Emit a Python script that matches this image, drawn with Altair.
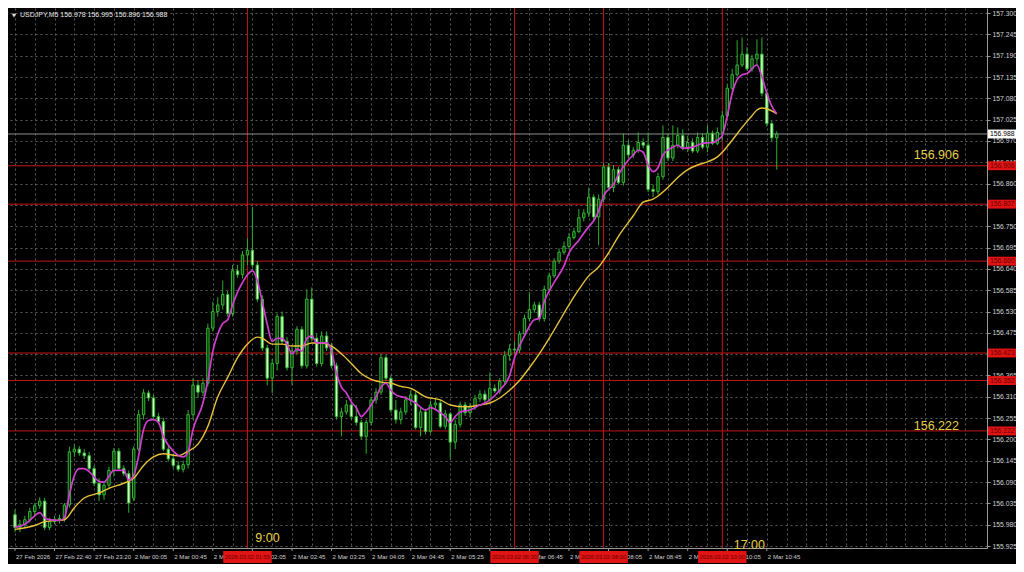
import altair as alt
import pandas as pd

# ---------------- data ----------------
open_ = [156.006,155.973,155.981,155.993,156.014,156.029,156.041,155.973,155.988,155.993,
         155.996,156.031,156.168,156.175,156.165,156.158,156.125,156.087,156.057,156.082,
         156.120,156.170,156.125,156.112,156.049,156.175,156.264,156.320,156.307,156.259,
         156.246,156.175,156.150,156.133,156.123,156.135,156.264,156.340,156.322,156.345,
         156.487,156.530,156.547,156.574,156.525,156.635,156.625,156.676,156.688,156.650,
         156.562,156.436,156.358,156.396,156.517,156.453,156.385,156.428,156.484,156.390,
         156.562,156.461,156.396,156.467,156.436,156.390,156.259,156.271,156.289,156.259,
         156.244,156.208,156.244,156.302,156.322,156.411,156.358,156.276,156.251,156.271,
         156.302,156.315,156.231,156.271,156.221,156.289,156.294,156.234,156.266,156.193,
         156.239,156.289,156.269,156.284,156.305,156.317,156.302,156.332,156.325,156.350,
         156.416,156.433,156.431,156.472,156.512,156.535,156.547,156.512,156.587,156.622,
         156.660,156.683,156.698,156.721,156.736,156.772,156.784,156.825,156.774,156.820,
         156.903,156.850,156.896,156.863,156.959,156.934,156.946,156.966,156.959,156.845,
         156.840,156.878,156.979,156.926,156.959,156.984,156.954,156.966,156.944,156.979,
         156.954,156.990,156.964,156.992,157.035,157.106,157.141,157.166,157.194,157.156,
         157.182,157.194,157.093,157.015,156.978]
high_ = [156.019,155.993,156.003,156.024,156.036,156.051,156.049,155.998,156.003,156.006,
         156.036,156.181,156.188,156.183,156.175,156.168,156.133,156.100,156.090,156.130,
         156.178,156.178,156.133,156.120,156.183,156.276,156.330,156.327,156.315,156.269,
         156.256,156.183,156.163,156.145,156.145,156.276,156.358,156.353,156.358,156.499,
         156.555,156.567,156.610,156.584,156.650,156.650,156.686,156.719,156.800,156.660,
         156.572,156.444,156.408,156.525,156.530,156.464,156.438,156.492,156.492,156.587,
         156.592,156.472,156.479,156.479,156.449,156.398,156.282,156.302,156.297,156.289,
         156.251,156.251,156.310,156.332,156.421,156.418,156.365,156.302,156.282,156.312,
         156.327,156.322,156.282,156.279,156.299,156.307,156.302,156.276,156.271,156.251,
         156.297,156.297,156.294,156.315,156.327,156.327,156.373,156.342,156.358,156.428,
         156.446,156.453,156.479,156.522,156.580,156.555,156.555,156.597,156.630,156.668,
         156.693,156.711,156.732,156.746,156.794,156.794,156.850,156.832,156.832,156.913,
         156.913,156.908,156.903,156.990,156.972,156.954,156.992,156.977,156.992,156.858,
         156.888,157.010,156.990,157.010,157.005,157.000,156.984,156.977,156.992,156.990,
         157.010,156.997,157.005,157.047,157.116,157.156,157.230,157.237,157.212,157.192,
         157.232,157.237,157.101,157.022,156.995]
low_ = [155.961,155.961,155.971,155.986,156.003,156.021,155.966,155.966,155.981,155.983,
        155.988,156.024,156.155,156.158,156.150,156.120,156.080,156.041,156.044,156.074,
        156.105,156.120,156.105,156.011,156.041,156.170,156.251,156.299,156.254,156.239,
        156.170,156.143,156.125,156.117,156.115,156.125,156.251,156.307,156.312,156.337,
        156.479,156.517,156.535,156.517,156.517,156.617,156.615,156.650,156.643,156.555,
        156.428,156.340,156.320,156.378,156.444,156.378,156.340,156.421,156.383,156.383,
        156.453,156.388,156.388,156.428,156.383,156.251,156.208,156.264,156.251,156.236,
        156.201,156.163,156.236,156.292,156.315,156.350,156.269,156.241,156.239,156.264,
        156.289,156.226,156.208,156.213,156.216,156.276,156.229,156.226,156.150,156.175,
        156.231,156.261,156.256,156.276,156.297,156.294,156.297,156.320,156.317,156.342,
        156.403,156.421,156.423,156.464,156.504,156.527,156.504,156.504,156.580,156.617,
        156.653,156.676,156.691,156.716,156.732,156.762,156.774,156.767,156.701,156.812,
        156.843,156.838,156.858,156.855,156.926,156.926,156.939,156.951,156.838,156.825,
        156.832,156.870,156.918,156.918,156.951,156.946,156.941,156.939,156.939,156.949,
        156.941,156.959,156.959,156.972,157.030,157.098,157.136,157.161,157.151,157.149,
        157.166,157.085,157.007,156.969,156.896]
close_ = [155.973,155.981,155.993,156.014,156.029,156.041,155.973,155.988,155.993,155.996,
          156.031,156.168,156.175,156.165,156.158,156.125,156.087,156.057,156.082,156.120,
          156.170,156.125,156.112,156.036,156.175,156.264,156.320,156.307,156.259,156.246,
          156.175,156.150,156.133,156.123,156.135,156.264,156.340,156.322,156.345,156.487,
          156.530,156.547,156.574,156.525,156.635,156.625,156.676,156.688,156.650,156.562,
          156.436,156.358,156.396,156.517,156.453,156.385,156.428,156.484,156.390,156.562,
          156.461,156.396,156.467,156.436,156.390,156.259,156.271,156.289,156.259,156.244,
          156.208,156.244,156.302,156.322,156.411,156.358,156.276,156.251,156.271,156.302,
          156.315,156.231,156.271,156.221,156.289,156.294,156.234,156.266,156.193,156.239,
          156.289,156.269,156.284,156.305,156.317,156.302,156.332,156.325,156.350,156.416,
          156.433,156.431,156.472,156.512,156.535,156.547,156.512,156.587,156.622,156.660,
          156.683,156.698,156.721,156.736,156.772,156.784,156.825,156.774,156.820,156.903,
          156.850,156.896,156.863,156.959,156.934,156.946,156.966,156.959,156.845,156.840,
          156.878,156.979,156.926,156.959,156.984,156.954,156.966,156.944,156.979,156.954,
          156.990,156.964,156.992,157.035,157.106,157.141,157.166,157.194,157.156,157.182,
          157.194,157.093,157.015,156.978,156.988]

fast_idx = [0,2,4,5,6,7,9,10,11,12,13,14,15,17,18,19,20,22,23,24,25,26,27,28,29,30,32,34,35,36,
            38,39,40,41,42,43,44,45,46,47,48,49,50,51,52,53,54,55,56,57,58,59,60,61,63,64,65,66,67,68,
            69,70,71,72,73,74,75,76,77,79,81,83,84,86,87,88,89,90,92,94,95,96,98,100,101,103,105,106,107,109,
            111,112,114,116,117,118,119,121,122,124,125,126,127,128,129,130,131,133,134,135,
            137,138,139,141,142,143,144,145,146,147,148,150,151,152,153,154]
fast_val = [155.973,155.981,156.003,156.011,155.998,155.993,155.991,155.998,156.057,156.107,
            156.125,156.125,156.117,156.092,156.090,156.105,156.120,156.120,156.095,156.107,
            156.158,156.226,156.249,156.251,156.244,156.208,156.170,156.155,156.168,156.226,
            156.294,156.352,156.428,156.472,156.499,156.509,156.547,156.580,156.605,156.625,
            156.635,156.610,156.555,156.497,156.453,156.461,156.461,156.446,156.421,156.433,
            156.428,156.461,156.467,156.449,156.449,156.428,156.370,156.335,156.320,156.297,
            156.282,156.259,156.271,156.289,156.310,156.335,156.345,156.327,156.315,156.307,
            156.294,156.276,156.282,156.269,156.259,156.244,156.259,156.271,156.276,156.289,
            156.294,156.302,156.327,156.365,156.411,156.467,156.509,156.512,156.555,156.605,
            156.648,156.681,156.714,156.749,156.764,156.790,156.828,156.858,156.883,156.921,
            156.934,156.946,156.941,156.908,156.891,156.901,156.934,156.954,156.959,156.951,
            156.954,156.959,156.964,156.966,156.972,156.984,157.035,157.093,157.128,157.141,
            157.144,157.166,157.136,157.093,157.060,157.040]

slow_idx = [0,4,6,10,12,14,17,19,22,24,26,28,30,33,35,37,39,41,43,45,47,49,50,52,54,56,58,60,62,64,
            66,68,70,72,74,76,78,80,83,86,88,91,94,96,98,100,102,104,106,108,110,112,114,116,118,120,
            122,125,127,129,130,132,134,136,138,140,142,143,145,147,149,150,151,152,154]
slow_val = [155.968,155.978,155.988,155.993,156.024,156.049,156.062,156.074,156.087,156.100,
            156.133,156.155,156.163,156.158,156.170,156.188,156.234,156.310,156.360,156.411,
            156.446,156.464,156.461,156.446,156.446,156.441,156.441,156.449,156.449,156.441,
            156.421,156.396,156.370,156.355,156.348,156.345,156.337,156.332,156.310,156.302,
            156.289,156.284,156.289,156.294,156.307,156.327,156.352,156.385,156.421,156.461,
            156.504,156.547,156.587,156.622,156.645,156.681,156.724,156.777,156.812,156.820,
            156.828,156.850,156.876,156.896,156.908,156.916,156.929,156.941,156.972,157.005,
            157.035,157.050,157.055,157.053,157.040]

hline_prices = [156.906, 156.807, 156.660, 156.423, 156.352, 156.222]
vline_idx = [47, 101, 119, 143]
vline_labels = ["2026.03.02 01:55", "2026.03.02 06:30", "2026.03.02 08:00", "2026.03.02 10:00"]

time_idx = [0, 8, 16, 24, 32, 40, 48, 56, 64, 72, 80, 88, 96, 104, 112, 120, 128, 136, 144, 152]
time_labels = ["27 Feb 2026", "27 Feb 22:40", "27 Feb 23:20", "2 Mar 00:05", "2 Mar 00:45",
               "2 Mar 01:25", "2 Mar 02:05", "2 Mar 02:45", "2 Mar 03:25", "2 Mar 04:05",
               "2 Mar 04:45", "2 Mar 05:25", "2 Mar 06:05", "2 Mar 06:45", "2 Mar 07:25",
               "2 Mar 08:05", "2 Mar 08:45", "2 Mar 09:25", "2 Mar 10:05", "2 Mar 10:45"]
price_ticks = [155.925, 155.980, 156.035, 156.090, 156.145, 156.200, 156.255, 156.310, 156.365,
               156.420, 156.475, 156.530, 156.585, 156.640, 156.695, 156.750, 156.805, 156.860,
               156.915, 156.970, 157.025, 157.080, 157.135, 157.190, 157.245, 157.300]
bid_price = 156.988

ann_text = ["9:00", "17:00", "156.906", "156.222"]
ann_x = [48.6, 145.3, 181.7, 181.7]
ann_y = [155.945, 155.928, 156.934, 156.236]

symbol = "USDJPY,M5"

# ---------------- tables ----------------
bars = pd.DataFrame({"i": list(range(len(close_))), "o": open_, "h": high_, "l": low_, "c": close_})
fast = pd.DataFrame({"i": fast_idx, "v": fast_val})
slow = pd.DataFrame({"i": slow_idx, "v": slow_val})
hl = pd.DataFrame({"p": hline_prices})
vl = pd.DataFrame({"i": vline_idx, "t": vline_labels})
tl = pd.DataFrame({"i": time_idx, "t": time_labels})
bid = pd.DataFrame({"p": [bid_price]})
ann = pd.DataFrame({"x": ann_x, "y": ann_y, "t": ann_text})
ttl = pd.DataFrame({"t": [f"{symbol}  {open_[-1]:.3f} {high_[-1]:.3f} {low_[-1]:.3f} {close_[-1]:.3f}"]})

W, H = 979, 540
FONT = "Liberation Sans"
GRID = "#8a8a8a"
AX = "#9a9a9a"
RED_LINE = "#c41414"
RED_BOX = "#e01414"

xs = alt.Scale(domain=[-0.4, 195.5], nice=False, zero=False)
ys = alt.Scale(domain=[155.920, 157.313], nice=False, zero=False)
xaxis = alt.Axis(values=list(range(0, 196, 4)), grid=True, gridColor=GRID, gridDash=[2, 3],
                 gridOpacity=0.65, labels=False, ticks=False, domain=True, domainColor=AX, title=None)
yaxis = alt.Axis(orient="right", values=price_ticks, format=".3f", grid=True, gridColor=GRID,
                 gridDash=[2, 3], gridOpacity=0.65, labelColor="#d2d2d2", labelFont=FONT,
                 labelFontSize=6.8, labelAlign="left", labelPadding=2, tickColor=AX, tickSize=3,
                 domainColor=AX, title=None)


def X(f):
    return alt.X(f, type="quantitative", scale=xs, axis=xaxis)


def Y(f):
    return alt.Y(f, type="quantitative", scale=ys, axis=yaxis)


hlines = alt.Chart(hl).mark_rule(color=RED_LINE, strokeWidth=1).encode(y=Y("p"))
vlines = alt.Chart(vl).mark_rule(color=RED_LINE, strokeWidth=1).encode(x=X("i"))
bidline = alt.Chart(bid).mark_rule(color="#8f8f8f", strokeWidth=1).encode(y=Y("p"))

wicks = alt.Chart(bars).mark_rule(color="#2fae2f", strokeWidth=1).encode(x=X("i"), y=Y("l"), y2="h")
bodies = alt.Chart(bars).mark_bar(size=2.4, stroke="#33b833", strokeWidth=1).encode(
    x=X("i"), y=Y("o"), y2="c",
    fill=alt.condition("datum.c >= datum.o", alt.value("#0c300c"), alt.value("#d6ffc8")),
)

fast_line = alt.Chart(fast).mark_line(color="#cf3fcf", strokeWidth=1.7, interpolate="monotone").encode(
    x=X("i"), y=Y("v"))
slow_line = alt.Chart(slow).mark_line(color="#e8c23a", strokeWidth=1.4, interpolate="monotone").encode(
    x=X("i"), y=Y("v"))

ann_txt = alt.Chart(ann).mark_text(align="left", baseline="middle", fontSize=12.5, font=FONT,
                                   color="#e6cf4a").encode(x=X("x"), y=Y("y"), text="t:N")

# bottom time labels
tticks = alt.Chart(tl).mark_rule(color=AX).encode(x=X("i"), y=alt.value(H), y2=alt.value(H + 3))
tlabels = alt.Chart(tl).mark_text(align="left", baseline="middle", dx=1, fontSize=6.1, font=FONT,
                                  color="#cfcfcf").encode(x=X("i"), y=alt.value(H + 9), text="t:N")
tboxes = alt.Chart(vl).transform_calculate(x0="datum.i - 4.9", x1="datum.i + 4.9").mark_rect(
    color=RED_BOX).encode(x=X("x0:Q"), x2="x1:Q", y=alt.value(H + 3), y2=alt.value(H + 15))
tboxtxt = alt.Chart(vl).mark_text(baseline="middle", fontSize=5.8, font=FONT, color="#6a0000").encode(
    x=X("i"), y=alt.value(H + 9), text="t:N")

# right axis price boxes
pboxes = alt.Chart(hl).transform_calculate(top="datum.p + 0.0115", bot="datum.p - 0.0115").mark_rect(
    color=RED_BOX).encode(x=alt.value(W + 1), x2=alt.value(W + 29), y=Y("top:Q"), y2="bot:Q")
pboxtxt = alt.Chart(hl).mark_text(align="left", baseline="middle", fontSize=6.8, font=FONT,
                                  color="#6a0000").encode(x=alt.value(W + 3), y=Y("p"),
                                                          text=alt.Text("p:Q", format=".3f"))
bidbox = alt.Chart(bid).transform_calculate(top="datum.p + 0.0115", bot="datum.p - 0.0115").mark_rect(
    color="#ffffff").encode(x=alt.value(W + 1), x2=alt.value(W + 29), y=Y("top:Q"), y2="bot:Q")
bidtxt = alt.Chart(bid).mark_text(align="left", baseline="middle", fontSize=6.8, font=FONT,
                                  color="#000000").encode(x=alt.value(W + 3), y=Y("p"),
                                                          text=alt.Text("p:Q", format=".3f"))

title_txt = alt.Chart(ttl).mark_text(align="left", baseline="middle", fontSize=7, font=FONT,
                                     color="#e8e8e8").encode(x=alt.value(12), y=alt.value(7), text="t:N")
title_tri = alt.Chart(ttl).mark_text(align="left", baseline="middle", fontSize=5, font="DejaVu Sans",
                                     color="#e8e8e8").encode(x=alt.value(4), y=alt.value(7),
                                                             text=alt.value("▼"))

chart = alt.layer(
    hlines, vlines, bidline, wicks, bodies, slow_line, fast_line, ann_txt,
    tticks, tlabels, tboxes, tboxtxt, pboxes, pboxtxt, bidbox, bidtxt, title_tri, title_txt,
).properties(
    width=W, height=H, background="#000000",
    padding={"left": 0, "top": 0, "right": 29, "bottom": 16},
    autosize=alt.AutoSizeParams(type="none"),
).configure_view(stroke=None)

chart.save("out.html", embed_options={"renderer": "svg", "actions": False})
